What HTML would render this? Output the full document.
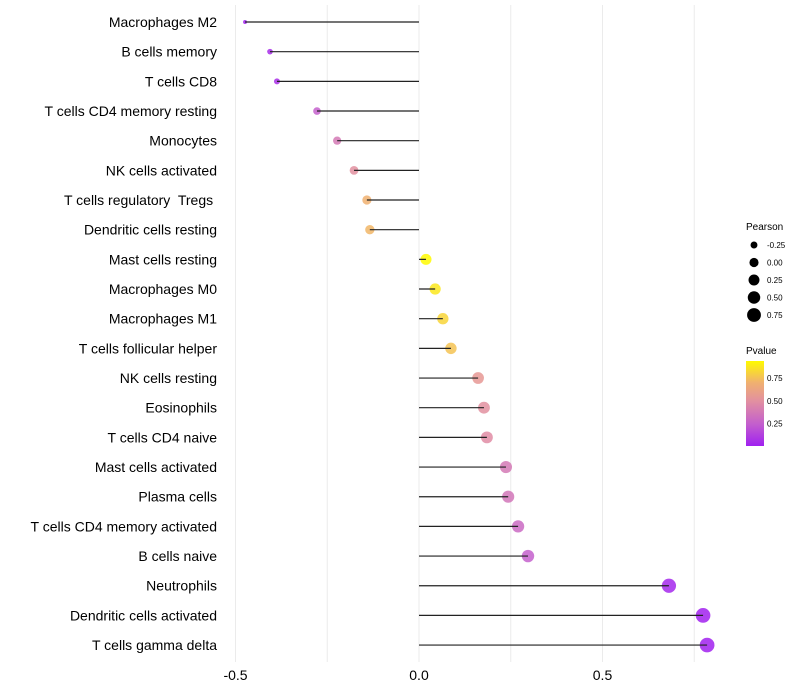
<!DOCTYPE html>
<html><head><meta charset="utf-8"><style>
body{margin:0;background:#fff;font-family:"Liberation Sans",sans-serif;}
svg{display:block}
text{white-space:pre}
</style></head><body>
<svg id="chart" width="800" height="700"></svg>
<script>
const categories=["Macrophages M2","B cells memory","T cells CD8","T cells CD4 memory resting","Monocytes","NK cells activated","T cells regulatory  Tregs ","Dendritic cells resting","Mast cells resting","Macrophages M0","Macrophages M1","T cells follicular helper","NK cells resting","Eosinophils","T cells CD4 naive","Mast cells activated","Plasma cells","T cells CD4 memory activated","B cells naive","Neutrophils","Dendritic cells activated","T cells gamma delta"];
const pearson=[-0.474,-0.406,-0.387,-0.278,-0.223,-0.177,-0.142,-0.134,0.019,0.044,0.065,0.087,0.161,0.177,0.185,0.237,0.243,0.27,0.297,0.681,0.774,0.785];
const pvalue=[0.01,0.05,0.06,0.25,0.38,0.5,0.7,0.72,0.94,0.88,0.82,0.76,0.55,0.5,0.48,0.38,0.36,0.3,0.25,0.03,0.005,0.005];
const xTicks=[-0.5,0,0.5];
const xTickLabels=["-0.5","0.0","0.5"];
const sizeLegend=[-0.25,0,0.25,0.5,0.75];
const sizeLegendLabels=["-0.25","0.00","0.25","0.50","0.75"];
const colorLegend=[0.25,0.5,0.75];
const colorLegendLabels=["0.25","0.50","0.75"];

const NS="http://www.w3.org/2000/svg";
const svg=document.getElementById('chart');
function mk(t,a,p){const e=document.createElementNS(NS,t);for(const k in a)e.setAttribute(k,a[k]);(p||svg).appendChild(e);return e;}
const x=v=>419+v*367;
const y=i=>22+i*29.67;
const rKnots=[[-0.5,1.8],[-0.47,2],[-0.4,2.9],[-0.28,3.8],[-0.14,4.6],[0,5.5],[0.3,6.2],[0.8,7.4]];
function r(v){
  for(let k=1;k<rKnots.length;k++){
    const a=rKnots[k-1],b=rKnots[k];
    if(v<=b[0]){const t=Math.max(0,(v-a[0])/(b[0]-a[0]));return a[1]+(b[1]-a[1])*t;}
  }
  return rKnots[rKnots.length-1][1];
}
const rLeg=v=>Math.sqrt(20.9+35.9*v);
const stops=[[0,[160,32,240]],[0.25,[196,96,204]],[0.5,[226,144,160]],[0.7,[240,176,112]],[0.94,[255,250,0]]];
function col(p){
  let k=1;while(k<stops.length-1&&p>stops[k][0])k++;
  const a=stops[k-1],b=stops[k];
  const t=Math.min(1,Math.max(0,(p-a[0])/(b[0]-a[0])));
  const c=a[1].map((v,j)=>Math.round(v+(b[1][j]-v)*t));
  return `rgb(${c.join(',')})`;
}
[-0.5,-0.25,0,0.25,0.5,0.75].forEach(v=>{
  const g=mk('line',{x1:x(v),x2:x(v),y1:5,y2:662,stroke:'#ebebeb','stroke-width':1});
  
  
});
xTicks.forEach((v,i)=>{
  const t=mk('text',{x:x(v),y:680,'text-anchor':'middle','font-size':14,fill:'#000'});
  t.textContent=xTickLabels[i];
  
  
});
categories.forEach((c,i)=>{
  const t=mk('text',{x:217,y:y(i)+5,'text-anchor':'end','font-size':14,fill:'#000'});
  t.textContent=c;
  
  
  const p=mk('circle',{cx:x(pearson[i]),cy:y(i),r:r(pearson[i]),fill:col(pvalue[i]),'fill-opacity':0.85});
  
  
  const l=mk('line',{x1:x(0),x2:x(pearson[i]),y1:y(i),y2:y(i),stroke:'#222','stroke-width':1.2});
  
  
});
const lt=mk('text',{x:746,y:230,'font-size':10});
lt.textContent='Pearson';


sizeLegend.forEach((v,i)=>{
  const cy=245+i*17.5;
  const c=mk('circle',{cx:754,cy:cy,r:rLeg(v),fill:'#000'});
  
  
  const t=mk('text',{x:767,y:cy+3,'font-size':8});
  t.textContent=sizeLegendLabels[i];
  
  
});
const ct=mk('text',{x:746,y:354,'font-size':10});
ct.textContent='Pvalue';


const defs=mk('defs',{});
const lg=mk('linearGradient',{id:'pg',x1:0,y1:1,x2:0,y2:0},defs);
[0.003,0.25,0.5,0.7,0.94].forEach(p=>{
  mk('stop',{offset:((p-0.003)/(0.94-0.003)).toFixed(3),'stop-color':col(p)},lg);
});
const bar=mk('rect',{x:746,y:361,width:18,height:85,fill:'url(#pg)'});


const cy=v=>446-(v-0.003)/(0.94-0.003)*85;
colorLegend.forEach((v,i)=>{
  const t=mk('text',{x:767,y:cy(v)+3,'font-size':8});
  t.textContent=colorLegendLabels[i];
  
  
});
</script>
</body></html>
